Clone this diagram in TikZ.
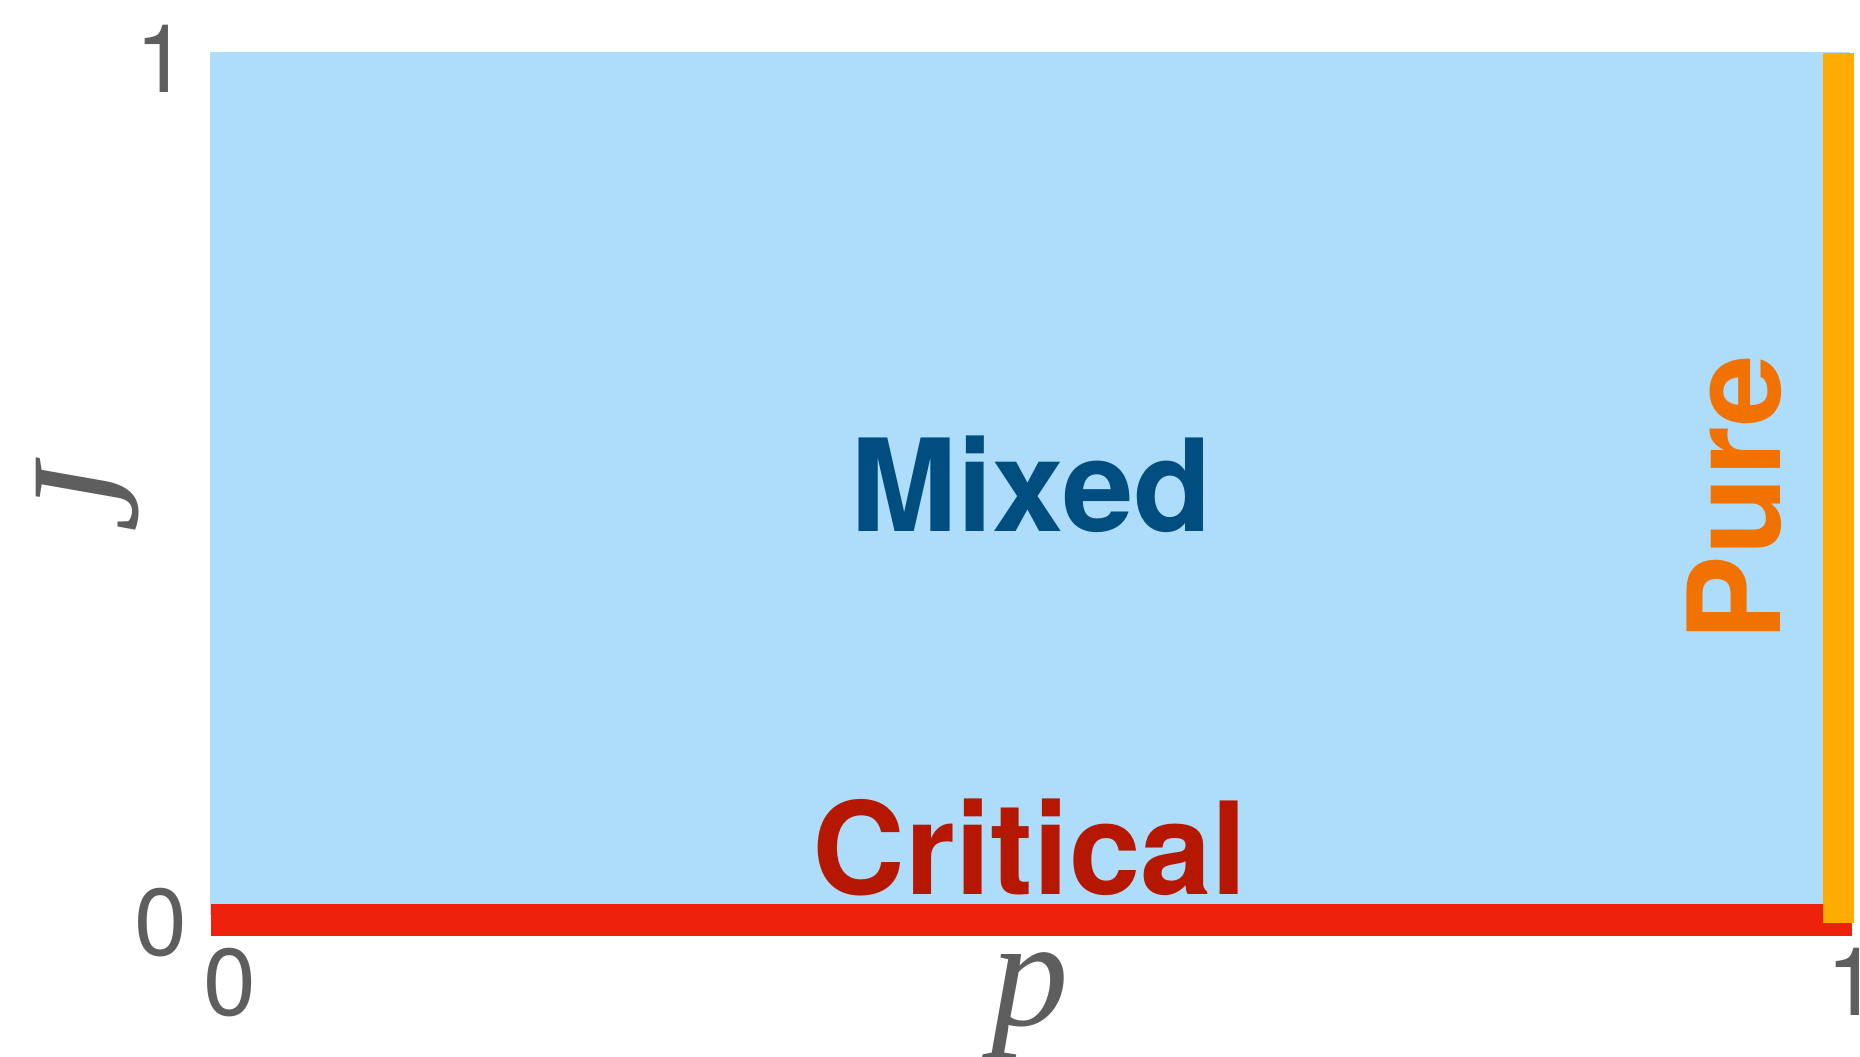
\documentclass[tikz,border=0pt]{standalone}
\usepackage{fontspec}
\setmainfont{TeX Gyre Heros}
\newfontfamily\timesfont{Liberation Serif}

\definecolor{mixedbg}{RGB}{174,220,251}
\definecolor{mixedtext}{RGB}{0,77,128}
\definecolor{criticalbar}{RGB}{238,34,12}
\definecolor{criticaltext}{RGB}{181,23,0}
\definecolor{purebar}{RGB}{255,171,0}
\definecolor{puretext}{RGB}{242,114,0}
\definecolor{tickgray}{RGB}{94,94,94}

\tikzset{
	ticklabel/.style={text=tickgray, inner sep=0pt, anchor=base, font=\fontsize{27}{27}\selectfont},
	axislabel/.style={text=tickgray, inner sep=0pt, font=\timesfont\itshape\fontsize{44}{44}\selectfont},
	phaselabel/.style={inner sep=0pt, anchor=base, font=\bfseries\fontsize{36.5}{36.5}\selectfont},
}

\begin{document}
\begin{tikzpicture}[x=0.01cm, y=-0.01cm]
		\useasboundingbox (0,0) rectangle (1860,1056);

		% 相図の領域
		\fill[mixedbg] (210,52) rectangle (1850,915);
		\fill[criticalbar] (211,904) rectangle (1852,936);
		\fill[purebar] (1823,53) rectangle (1854,923);

		% 各相の名前
		\node[phaselabel, text=mixedtext] (mixed) at (1031,531) {Mixed};
		\node[phaselabel, text=criticaltext] (critical) at (1030,894) {Critical};
		\node[phaselabel, text=puretext, rotate=90] (pure) at (1780,498) {Pure};

		% 目盛り
		\node[ticklabel] (y1) at (162,92) {1};
		\node[ticklabel] (y0) at (161,955) {0};
		\node[ticklabel] (x0) at (230,1015) {0};
		\node[ticklabel] (x1) at (1853,1015) {1};

		% 軸ラベル
		\node[axislabel, rotate=90] (J) at (88,498) {J};
		\node[axislabel, anchor=base] (p) at (1030,1025) {p};
	\end{tikzpicture}
\end{document}
